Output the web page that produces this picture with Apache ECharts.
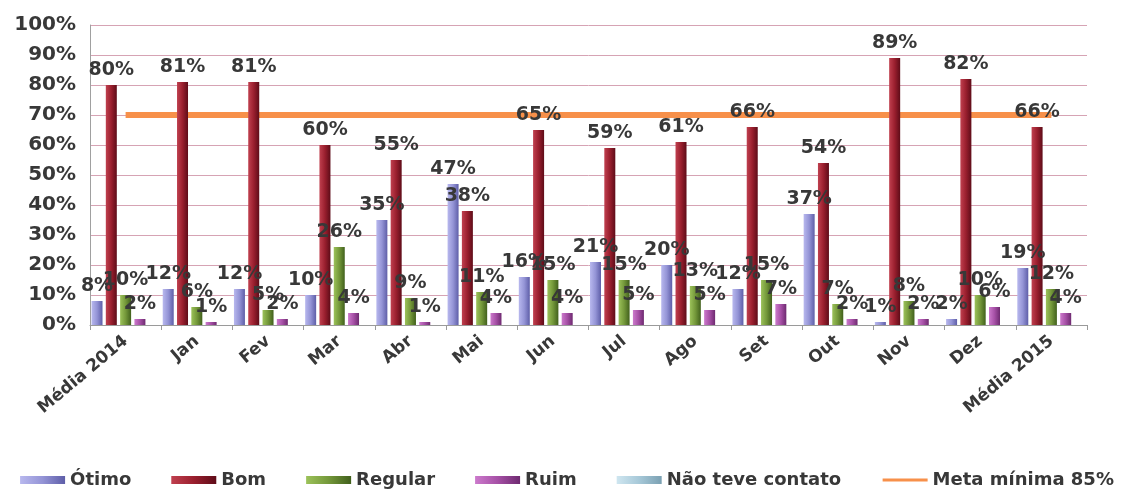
<!DOCTYPE html>
<html>
<head>
<meta charset="utf-8">
<script src="https://cdn.jsdelivr.net/npm/echarts@6/dist/echarts.min.js"></script>
<style>
  html, body { margin: 0; padding: 0; background: #fff; }
  #chart { width: 1134px; height: 494px; }
</style>
</head>
<body>
<div id="chart"></div>
<script>
const categories = ['Média 2014', 'Jan', 'Fev', 'Mar', 'Abr', 'Mai', 'Jun', 'Jul', 'Ago', 'Set', 'Out', 'Nov', 'Dez', 'Média 2015']
const otimo = [8, 12, 12, 10, 35, 47, 16, 21, 20, 12, 37, 1, 2, 19]
const bom = [80, 81, 81, 60, 55, 38, 65, 59, 61, 66, 54, 89, 82, 66]
const regular = [10, 6, 5, 26, 9, 11, 15, 15, 13, 15, 7, 8, 10, 12]
const ruim = [2, 1, 2, 4, 1, 4, 4, 5, 5, 7, 2, 2, 6, 4]
const naoTeveContato = [0, 0, 0, 0, 0, 0, 0, 0, 0, 0, 0, 0, 0, 0]
const meta = [70, 70, 70, 70, 70, 70, 70, 70, 70, 70, 70, 70, 70, 70]

const FONT = 'DejaVu Sans'
const TXT = '#383838'

// horizontal gradient to fake the 3D cylinder look
const shade = (light, mid, dark) => new echarts.graphic.LinearGradient(0, 0, 1, 0, [
  { offset: 0, color: light },
  { offset: 0.5, color: mid },
  { offset: 1, color: dark },
])

const barSeries = (name, data, color, showLabel = true) => ({
  name,
  type: 'bar',
  data,
  barWidth: 11,
  barGap: '30%',
  itemStyle: { color },
  label: {
    show: showLabel,
    position: 'top',
    distance: 5,
    formatter: '{c}%',
    color: TXT,
    fontFamily: FONT,
    fontWeight: 'bold',
    fontSize: 19,
  },
})

const chart = echarts.init(document.getElementById('chart'))
chart.setOption({
  backgroundColor: '#ffffff',
  animation: false,
  textStyle: { fontFamily: FONT },
  legend: {
    bottom: 0,
    left: 'center',
    itemWidth: 45,
    itemHeight: 8,
    itemGap: 40,
    textStyle: { color: TXT, fontSize: 18, fontWeight: 'bold', fontFamily: FONT },
    data: [
      { name: 'Ótimo', icon: 'rect' },
      { name: 'Bom', icon: 'rect' },
      { name: 'Regular', icon: 'rect' },
      { name: 'Ruim', icon: 'rect' },
      { name: 'Não teve contato', icon: 'rect' },
      { name: 'Meta mínima 85%', itemStyle: { opacity: 0 }, lineStyle: { width: 3 } },
    ],
  },
  grid: { left: 90, right: 47, top: 25, bottom: 169 },
  xAxis: {
    type: 'category',
    data: categories,
    axisLine: { lineStyle: { color: '#9a9a9a' } },
    axisTick: { show: true, lineStyle: { color: '#9a9a9a' } },
    axisLabel: {
      rotate: 40,
      interval: 0,
      margin: 14,
      color: TXT,
      fontFamily: FONT,
      fontWeight: 'bold',
      fontSize: 17,
    },
  },
  yAxis: {
    type: 'value',
    min: 0,
    max: 100,
    interval: 10,
    axisLine: { show: true, lineStyle: { color: '#a0a0a0' } },
    axisTick: { show: false },
    axisLabel: {
      formatter: '{value}%',
      margin: 14,
      color: TXT,
      fontFamily: FONT,
      fontWeight: 'bold',
      fontSize: 20,
    },
    splitLine: { lineStyle: { color: '#d6a3b4', width: 1 } },
  },
  series: [
    barSeries('Ótimo', otimo, shade('#b8b8ee', '#9494d6', '#5e5ea8')),
    barSeries('Bom', bom, shade('#c0404f', '#9a1f2e', '#5e0c18')),
    barSeries('Regular', regular, shade('#9cc25a', '#74983a', '#41601c')),
    barSeries('Ruim', ruim, shade('#cc7acc', '#a650a6', '#6e2a70')),
    barSeries('Não teve contato', naoTeveContato, shade('#cfe6f0', '#a6c8d8', '#7aa0b2'), false),
    {
      name: 'Meta mínima 85%',
      type: 'line',
      data: meta,
      symbol: 'none',
      itemStyle: { color: '#f7904a' },
      lineStyle: { color: '#f7904a', width: 6 },
      z: 1,
    },
  ],
})
</script>
</body>
</html>
